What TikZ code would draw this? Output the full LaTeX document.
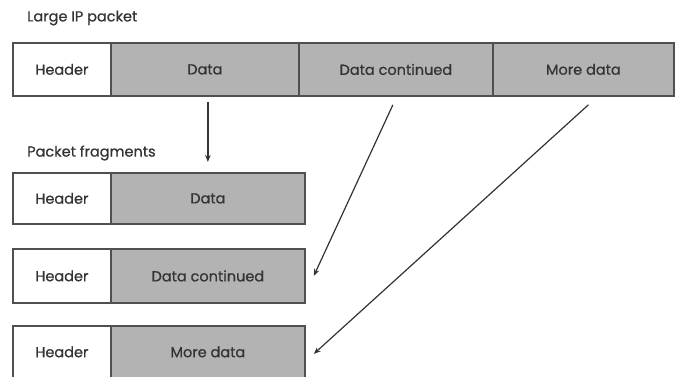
\documentclass[tikz,border=0pt]{standalone}
\usepackage{fontspec}
\setmainfont{Poppins}[AutoFakeBold=0.6]
\usetikzlibrary{arrows.meta,calc}
\definecolor{cellgrey}{HTML}{B3B3B3}
\definecolor{edge}{HTML}{505050}
\definecolor{ink}{HTML}{333333}
\begin{document}
\begin{tikzpicture}[x=1pt,y=-1pt,
  cell/.style={draw=edge, line width=1.8pt, anchor=north west, inner sep=0pt,
    text=ink, font=\fontsize{14.5}{16}\selectfont\bfseries},
  hdr/.style={cell, fill=white, minimum width=98pt},
  dat/.style={cell, fill=cellgrey},
  lbl/.style={anchor=west, text=ink, font=\fontsize{14.5}{16}\selectfont\bfseries, inner sep=0pt},
  arr/.style={draw=ink, line width=1.2pt, -{Stealth[length=7pt,width=5.5pt]}}
]
\useasboundingbox (0,0) rectangle (675,376);
% top packet
\node[lbl] (lt) at (27,18) {Large IP packet};
\node[hdr, minimum height=53pt] (h0) at (12,42) {Header};
\node[dat, minimum height=53pt, minimum width=188pt] (d1) at (110,42) {Data};
\node[dat, minimum height=53pt, minimum width=194pt] (d2) at (298,42) {Data continued};
\node[dat, minimum height=53pt, minimum width=181pt] (d3) at (492,42) {More data};
% fragments
\node[lbl] (lf) at (27,153) {Packet fragments};
\node[hdr, minimum height=51pt] (fh1) at (12,172) {Header};
\node[dat, minimum height=51pt, minimum width=194pt] (fd1) at (110,172) {Data};
\node[hdr, minimum height=54pt] (fh2) at (12,248) {Header};
\node[dat, minimum height=54pt, minimum width=194pt] (fd2) at (110,248) {Data continued};
\node[hdr, minimum height=52pt] (fh3) at (12,325) {Header};
\node[dat, minimum height=52pt, minimum width=194pt] (fd3) at (110,325) {More data};
% arrow ends
\coordinate (s1) at ($(d1.south)+(3,5)$);
\coordinate (e1) at ($(fd1.north)+(0,-10)$);
\coordinate (s2) at ($(d2.south)+(-3,8)$);
\coordinate (e2) at ($(fd2.east)+(8,0)$);
\coordinate (s3) at ($(d3.south)+(5,8)$);
\coordinate (e3) at ($(fd3.east)+(8,2)$);
\draw[arr] (s1) -- (e1);
\draw[arr] (s2) -- (e2);
\draw[arr] (s3) -- (e3);
\end{tikzpicture}
\end{document}
